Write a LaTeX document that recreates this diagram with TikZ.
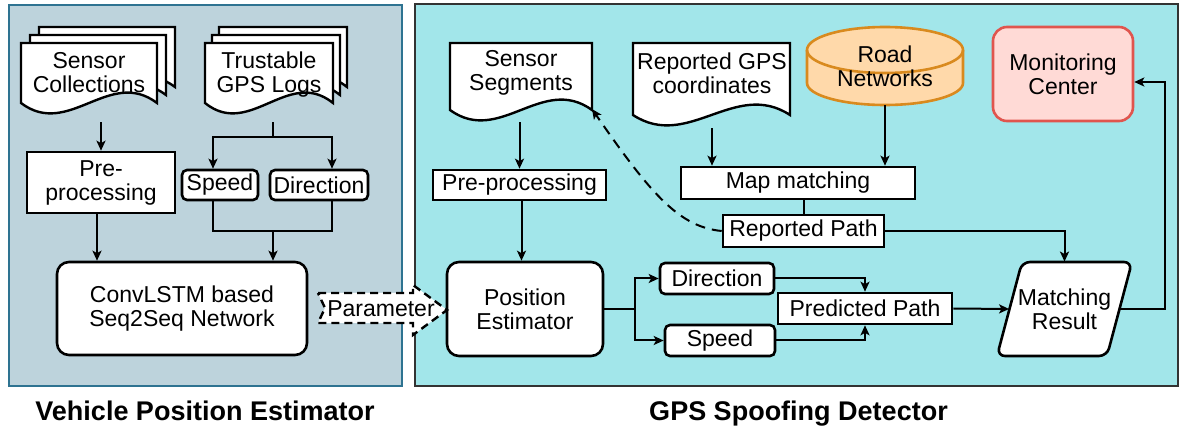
\documentclass[tikz,border=0pt]{standalone}
\usepackage{fontspec}
\setmainfont{Liberation Sans}
\usetikzlibrary{arrows.meta,calc}

\definecolor{leftbg}{HTML}{BDD3DC}
\definecolor{leftframe}{HTML}{2E7391}
\definecolor{rightbg}{HTML}{A2E6EA}
\definecolor{rightframe}{HTML}{333333}
\definecolor{roadfill}{HTML}{FFD9AA}
\definecolor{roadline}{HTML}{D98A1E}
\definecolor{monfill}{HTML}{FFDAD6}
\definecolor{monline}{HTML}{E0554E}

% document outline: left, top, right, bottom, wave depth, style
\newcommand{\docat}[6]{\draw[#6] (#1,#2) -- (#1,#4) .. controls ({#1+0.35*(#3-#1)},{#4+#5}) and ({#1+0.65*(#3-#1)},{#4-#5}) .. (#3,#4) -- (#3,#2) -- cycle;}

\begin{document}
\begin{tikzpicture}[x=0.5pt,y=-0.5pt,
  txt/.style={font=\fontsize{11.5}{12}\selectfont, align=center, inner sep=0pt},
  box/.style={txt, draw=black, fill=white, line width=1.3pt},
  rbox/.style={box, rounded corners=2.5pt},
  bigbox/.style={box, rounded corners=6pt},
  docline/.style={draw=black, fill=white, line width=1.2pt},
  line/.style={draw=black, line width=1pt},
  arr/.style={line, -{Stealth[length=5pt,width=4.5pt,inset=1.2pt]}},
  caption/.style={font=\fontsize{13.5}{15}\selectfont\bfseries, inner sep=0pt, anchor=base},
]
\useasboundingbox (0,0) rectangle (1180,433);

% panels
\draw[fill=leftbg, draw=leftframe, line width=1.3pt] (9,5) rectangle (402,386);
\draw[fill=rightbg, draw=rightframe, line width=1.3pt] (415,4) rectangle (1178,386);

% ---------------- left panel ----------------
\docat{39}{27}{175}{87}{36}{docline}
\docat{30}{35}{166}{95}{36}{docline}
\docat{21}{43}{157}{103}{36}{docline}
\node[txt, minimum width=68pt, minimum height=30pt] (sc) at (89,73) {Sensor\\Collections};

\docat{219}{27}{347}{87}{36}{docline}
\docat{212}{35}{340}{95}{36}{docline}
\docat{205}{43}{333}{103}{36}{docline}
\node[txt, minimum width=64pt, minimum height=30pt] (tg) at (269,75) {Trustable\\GPS Logs};

\node[box, minimum width=74pt, minimum height=30.5pt] (pp1) at (101,182.5) {Pre-\\processing};
\node[rbox, minimum width=38pt, minimum height=15pt] (sp1) at (220,185) {Speed};
\node[rbox, minimum width=49pt, minimum height=15pt] (di1) at (319,185) {Direction};
\node[bigbox, minimum width=125pt, minimum height=46.5pt] (conv) at (182,308.5) {ConvLSTM based\\Seq2Seq Network};

\draw[arr] ($(sc.south -| pp1.north)+(0,19)$) -- (pp1.north);
\coordinate (tsplit) at (273,137);
\draw[line] ($(tg.south -| tsplit)+(0,17)$) -- (tsplit);
\draw[arr] (tsplit) -| ([xshift=-3.5pt]sp1.north);
\draw[arr] (tsplit) -| ([xshift=6.5pt]di1.north);
\coordinate (tjoin) at (273,231);
\draw[line] ([xshift=-3.5pt]sp1.south) |- (tjoin);
\draw[line] ([xshift=6.5pt]di1.south) |- (tjoin);
\draw[arr] (tjoin) -- (tjoin |- conv.north);
\draw[arr] ([xshift=-2pt]pp1.south) -- ([xshift=-2pt]pp1.south |- conv.north);

% ---------------- right panel ----------------
\docat{450}{43}{592}{110}{36}{docline}
\node[txt, minimum width=71pt, minimum height=30pt] (ss) at (521,73) {Sensor\\Segments};
\coordinate (sstip) at (592,109);

\docat{633}{43}{790}{115}{36}{docline}
\node[txt, minimum width=78.5pt, minimum height=30pt] (rg) at (712,73) {Reported GPS\\coordinates};

% road network cylinder
\draw[fill=roadfill, draw=roadline, line width=1.3pt]
  (807,50) -- (807,83) arc[start angle=180, end angle=0, x radius=78, y radius=22]
  -- (963,50) arc[start angle=0, end angle=-180, x radius=78, y radius=23] -- cycle;
\draw[draw=roadline, line width=1.3pt] (807,50) arc[start angle=180, end angle=0, x radius=78, y radius=23];
\node[txt, minimum width=78pt, minimum height=39pt] (rn) at (885,66) {Road\\Networks};

\node[box, rounded corners=7pt, fill=monfill, draw=monline, minimum width=70pt, minimum height=47pt] (mc) at (1063,74) {Monitoring\\Center};

\node[box, minimum width=86.5pt, minimum height=15pt] (pp2) at (519.5,185) {Pre-processing};
\node[box, minimum width=117pt, minimum height=16pt] (mm) at (798,183) {Map matching};
\node[box, minimum width=80.5pt, minimum height=16pt] (rp) at (803.5,231) {Reported Path};
\node[bigbox, minimum width=78pt, minimum height=47pt] (pe) at (525,309) {Position\\Estimator};
\node[rbox, minimum width=57pt, minimum height=15.5pt] (dir2) at (717,278.5) {Direction};
\node[rbox, minimum width=55pt, minimum height=15.5pt] (sp2) at (720,340.5) {Speed};
\node[box, minimum width=87pt, minimum height=15.5pt] (pr) at (865,308.5) {Predicted Path};

\draw[draw=black, fill=white, line width=1.3pt, rounded corners=4pt]
  (1022,262) -- (1132,262) -- (1107,356) -- (997,356) -- cycle;
\node[txt, minimum width=55pt, minimum height=47pt] (mr) at (1064.5,309) {Matching\\Result};

% parameter hand-over arrow
\draw[draw=black, fill=white, line width=1.2pt, dash pattern=on 4pt off 2.5pt]
  (318,293) -- (413,293) -- (413,285) -- (447,310) -- (413,335) -- (413,323) -- (318,323) -- (325,308) -- cycle;
\node[txt] (param) at (381,309) {Parameter};

% connectors
\draw[arr] ($(ss.south -| pp2.north)+(0,19)$) -- (pp2.north);
\draw[arr] ($(rg.south)+(0,25)$) -- (rg.south |- mm.north);
\draw[arr] (rn.south) -- (rn.south |- mm.north);
\draw[line] (rp.north |- mm.south) -- (rp.north);
\draw[arr, dash pattern=on 5pt off 3.5pt] (rp.west) .. controls (680,227) and (652,196) .. (sstip);
\draw[arr] ([xshift=1pt]pp2.south) -- ([xshift=1pt]pp2.south |- pe.north);
\draw[arr] (pe.east) -- ++(31,0) |- (dir2.west);
\draw[arr] (pe.east) -- ++(31,0) |- (sp2.west);
\draw[arr] (dir2.east) -| (pr.north);
\draw[arr] (sp2.east) -| (pr.south);
\draw[arr] (pr.east) -- (mr.west);
\draw[arr] (rp.east) -| (mr.north);
\draw[arr] (mr.east) -- ++(45.5,0) |- ($(mc.east)+(0,8)$);

% captions
\node[caption] (capl) at (205,420) {Vehicle Position Estimator};
\node[caption] (capr) at (798.5,420) {GPS Spoofing Detector};
\end{tikzpicture}
\end{document}
